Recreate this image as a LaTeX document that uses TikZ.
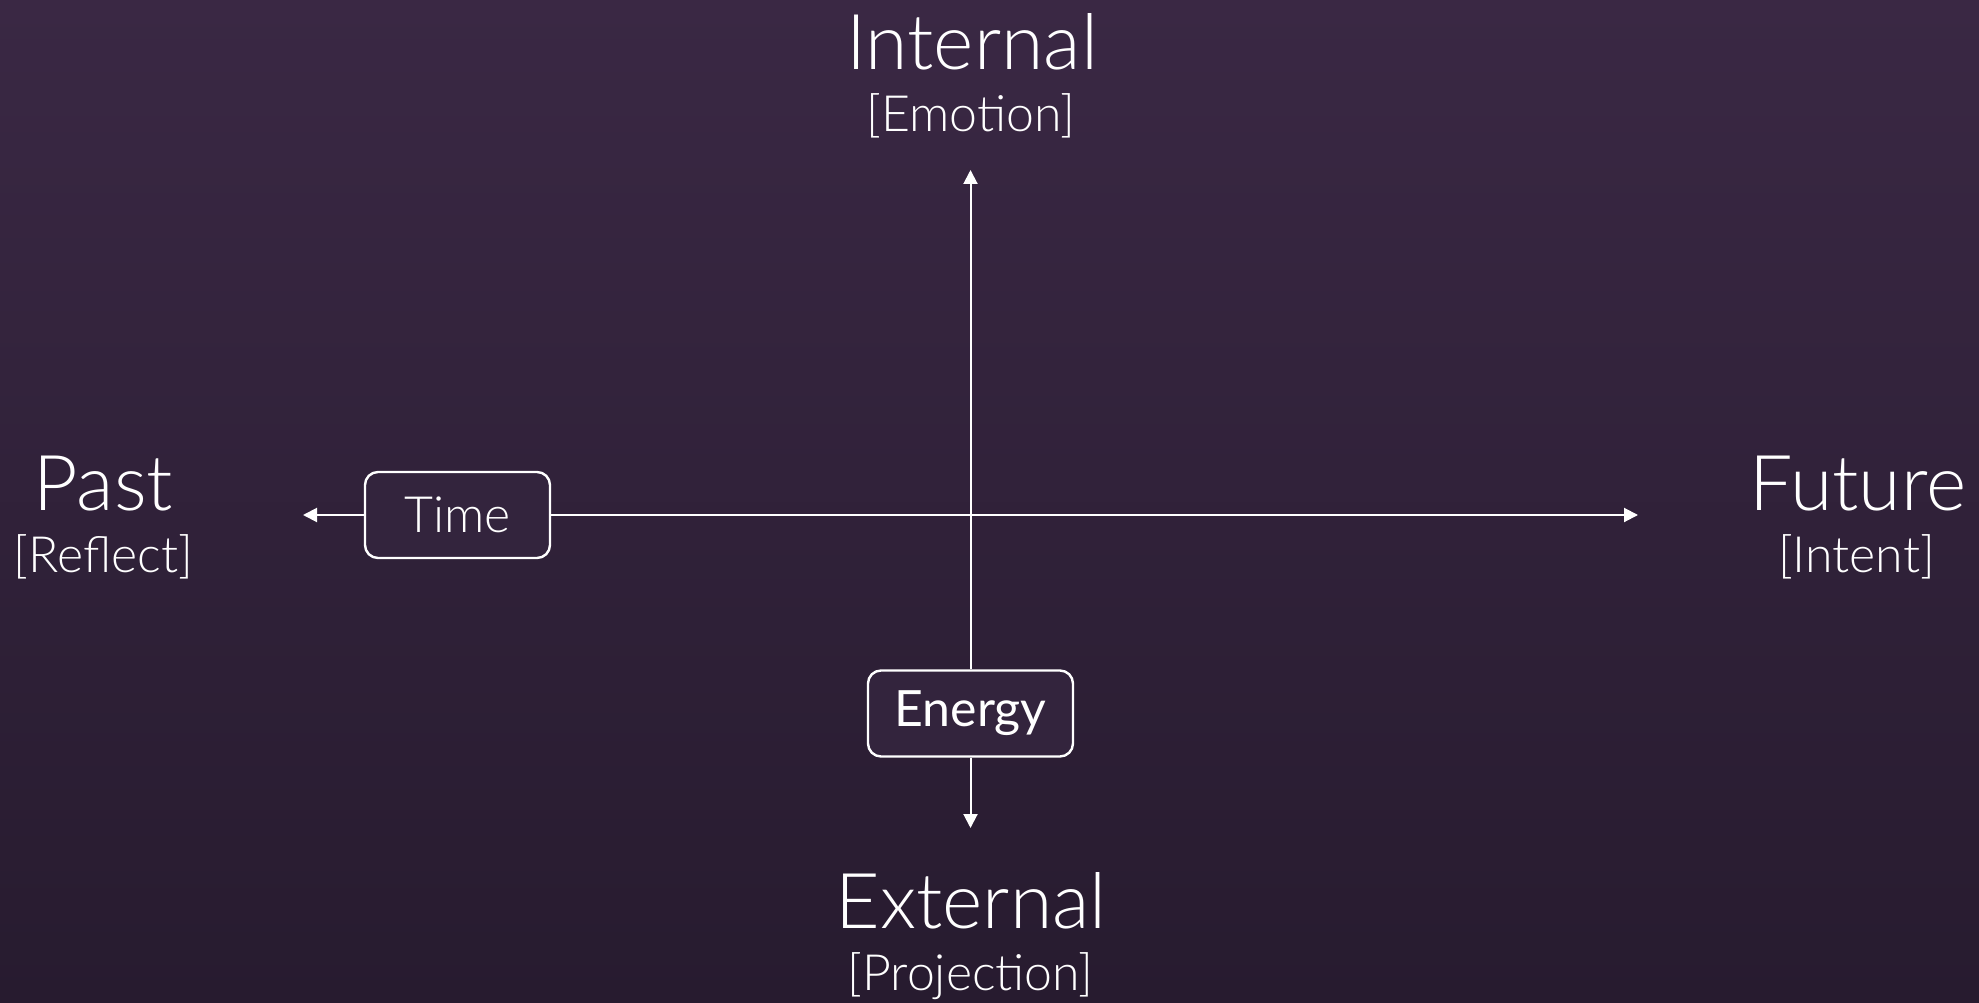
\documentclass[tikz,border=0pt]{standalone}
\usepackage{fontspec}
\setmainfont{Lato Light}
\newfontfamily\energyfont{Lato}
\usetikzlibrary{arrows.meta}
\definecolor{bgtop}{HTML}{3A2844}
\definecolor{bgbottom}{HTML}{271B2F}
\definecolor{boxfill}{HTML}{33243D}
\tikzset{
  axisline/.style={draw=white,line width=2pt},
  axistip/.style={-{Triangle[length=14pt,width=14pt]}},
  axisbox/.style={draw=white,line width=2.4pt,rounded corners=13pt,fill=boxfill,
    minimum width=185pt,minimum height=86pt,inner sep=0pt,text=white,
    font=\fontsize{50}{60}\selectfont},
  bigword/.style={text=white,anchor=base,inner sep=0pt,font=\fontsize{77}{90}\selectfont},
  smallword/.style={text=white,anchor=base,inner sep=0pt,font=\fontsize{50}{56}\selectfont},
}
\begin{document}
\begin{tikzpicture}[x=1pt,y=-1pt]
% background
\shade[top color=bgtop,bottom color=bgbottom](0,0) rectangle (1979,1003);
\useasboundingbox (0,0) rectangle (1979,1003);

% labels
\node[bigword] (internal) at (972,70) {Internal};
\node[smallword] (emotion) at (971,132) {[Emotion]};
\node[bigword] (past) at (103.5,510) {Past};
\node[smallword] (reflect) at (103.5,572) {[Reflect]};
\node[bigword] (future) at (1858,510) {Future};
\node[smallword] (intent) at (1856.5,572) {[Intent]};
\node[bigword] (external) at (971,928) {External};
\node[smallword] (projection) at (970.5,990) {[Projection]};

% arrow ends
\coordinate (toptip) at (970.5,170);
\coordinate (bottomtip) at (970.5,828);
\coordinate (lefttip) at (303,515);
\coordinate (righttip) at (1638,515);

% boxes
\node[axisbox] (time) at (457.5,515) {Time};
\node[axisbox,minimum width=205pt,font=\energyfont\fontsize{50}{60}\selectfont] (energy) at (970.5,713.5) {Energy};

% axes
\draw[axisline,axistip](time.east)--(righttip);
\draw[axisline,axistip](time.west)--(lefttip);
\draw[axisline,axistip](energy.north)--(toptip);
\draw[axisline,axistip](energy.south)--(bottomtip);
\end{tikzpicture}
\end{document}
